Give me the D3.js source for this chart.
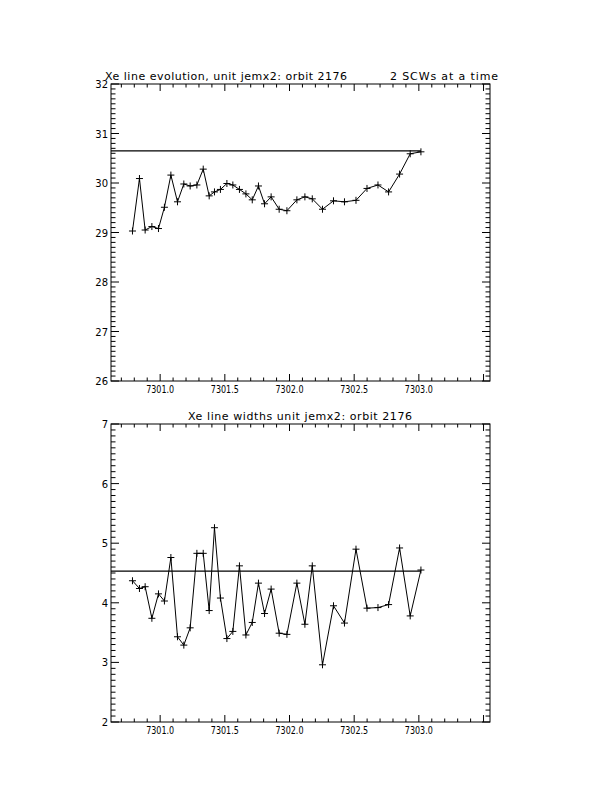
<!DOCTYPE html>
<html>
<head>
<meta charset="utf-8">
<script src="https://cdn.jsdelivr.net/npm/d3@7"></script>
<style>
  html, body { margin: 0; padding: 0; background: #fff; }
  svg { display: block; }
  text { font-family: "DejaVu Sans", sans-serif; fill: #000; }
</style>
</head>
<body>
<script>
// ---- data ----
const times = [7300.786, 7300.840, 7300.884, 7300.936, 7300.987, 7301.033, 7301.083, 7301.134,
  7301.183, 7301.232, 7301.284, 7301.333, 7301.379, 7301.420, 7301.466, 7301.516, 7301.562,
  7301.613, 7301.663, 7301.712, 7301.760, 7301.807, 7301.858, 7301.920, 7301.980, 7302.057,
  7302.119, 7302.176, 7302.255, 7302.340, 7302.425, 7302.514, 7302.599, 7302.684, 7302.766,
  7302.851, 7302.933, 7303.016];
const lineEnergy = [29.03, 30.09, 29.05, 29.12, 29.08, 29.51, 30.16, 29.62, 29.98, 29.94, 29.96,
  30.28, 29.74, 29.82, 29.87, 29.99, 29.96, 29.87, 29.78, 29.66, 29.94, 29.58, 29.72, 29.47,
  29.44, 29.66, 29.72, 29.68, 29.47, 29.64, 29.62, 29.65, 29.89, 29.96, 29.82, 30.18, 30.59, 30.63];
const lineWidth = [4.37, 4.24, 4.27, 3.74, 4.15, 4.03, 4.76, 3.43, 3.29, 3.58, 4.83, 4.83, 3.87,
  5.26, 4.08, 3.40, 3.52, 4.62, 3.46, 3.67, 4.33, 3.82, 4.23, 3.49, 3.47, 4.33, 3.64, 4.62,
  2.96, 3.95, 3.66, 4.90, 3.91, 3.92, 3.97, 4.92, 3.78, 4.55];
const energyRef = 30.65;
const widthRef = 4.53;
const xDomain = [7300.62, 7303.55];
const xTickValues = [7301.0, 7301.5, 7302.0, 7302.5, 7303.0];
const topTitleLeft = "Xe line evolution, unit jemx2: orbit 2176";
const topTitleRight = "2 SCWs at a time";
const bottomTitle = "Xe line widths unit jemx2: orbit 2176";

const W = 612, H = 792;
const svg = d3.select("body").append("svg").attr("width", W).attr("height", H);

function panel(opts) {
  const { top, bottom, left, right, yDomain, yValues, ref } = opts;
  const x = d3.scaleLinear().domain(xDomain).range([left, right]);
  const y = d3.scaleLinear().domain(yDomain).range([bottom, top]);
  const g = svg.append("g");

  g.append("rect").attr("x", left).attr("y", top)
    .attr("width", right - left).attr("height", bottom - top)
    .attr("fill", "none").attr("stroke", "#000").attr("stroke-width", 1);

  const minorX = d3.range(Math.ceil(xDomain[0] * 10), Math.floor(xDomain[1] * 10) + 1).map(v => v / 10);
  minorX.forEach(v => {
    const isMajor = Math.abs(v * 2 - Math.round(v * 2)) < 1e-6;
    const len = isMajor ? 7 : 3.5;
    const px = x(v);
    g.append("line").attr("x1", px).attr("x2", px).attr("y1", bottom).attr("y2", bottom - len)
      .attr("stroke", "#000");
    g.append("line").attr("x1", px).attr("x2", px).attr("y1", top).attr("y2", top + len)
      .attr("stroke", "#000");
  });
  xTickValues.forEach(v => {
    g.append("text").attr("x", x(v)).attr("y", bottom + 12)
      .attr("text-anchor", "middle").attr("font-size", 10)
      .attr("textLength", 28).attr("lengthAdjust", "spacingAndGlyphs").text(v.toFixed(1));
  });

  const minorY = d3.range(yDomain[0] * 10, yDomain[1] * 10 + 1).map(v => v / 10);
  minorY.forEach(v => {
    const isMajor = Math.abs(v - Math.round(v)) < 1e-6;
    const len = isMajor ? 8 : 4.5;
    const py = y(v);
    g.append("line").attr("x1", left).attr("x2", left + len).attr("y1", py).attr("y2", py)
      .attr("stroke", "#000");
    g.append("line").attr("x1", right).attr("x2", right - len).attr("y1", py).attr("y2", py)
      .attr("stroke", "#000");
  });
  d3.range(yDomain[0], yDomain[1] + 1).forEach(v => {
    g.append("text").attr("x", left - 3).attr("y", y(v) + 4)
      .attr("text-anchor", "end").attr("font-size", 10).text(v);
  });

  g.append("line").attr("x1", x(xDomain[0])).attr("x2", x(times[times.length - 1]))
    .attr("y1", y(ref)).attr("y2", y(ref)).attr("stroke", "#000").attr("stroke-width", 1.2);

  const pts = times.map((t, i) => [t, yValues[i]]);
  g.append("path").datum(pts)
    .attr("d", d3.line().x(d => x(d[0])).y(d => y(d[1])))
    .attr("fill", "none").attr("stroke", "#000").attr("stroke-width", 1);

  const s = 3.5;
  g.selectAll(".pm").data(pts).enter().append("path")
    .attr("d", d => {
      const px = x(d[0]), py = y(d[1]);
      return `M${px - s},${py}H${px + s}M${px},${py - s}V${py + s}`;
    })
    .attr("stroke", "#000").attr("stroke-width", 1).attr("fill", "none");
  return { x, y, g };
}

panel({ top: 84, bottom: 381, left: 111, right: 490, yDomain: [26, 32], yValues: lineEnergy, ref: energyRef });
panel({ top: 424, bottom: 722, left: 111, right: 490, yDomain: [2, 7], yValues: lineWidth, ref: widthRef });

svg.append("text").attr("x", 105).attr("y", 80).attr("font-size", 11)
  .attr("textLength", 242).attr("lengthAdjust", "spacing").text(topTitleLeft);
svg.append("text").attr("x", 390).attr("y", 80).attr("font-size", 11)
  .attr("textLength", 108).attr("lengthAdjust", "spacing").text(topTitleRight);
svg.append("text").attr("x", 188).attr("y", 420).attr("font-size", 11)
  .attr("textLength", 224).attr("lengthAdjust", "spacing").text(bottomTitle);
</script>
</body>
</html>
